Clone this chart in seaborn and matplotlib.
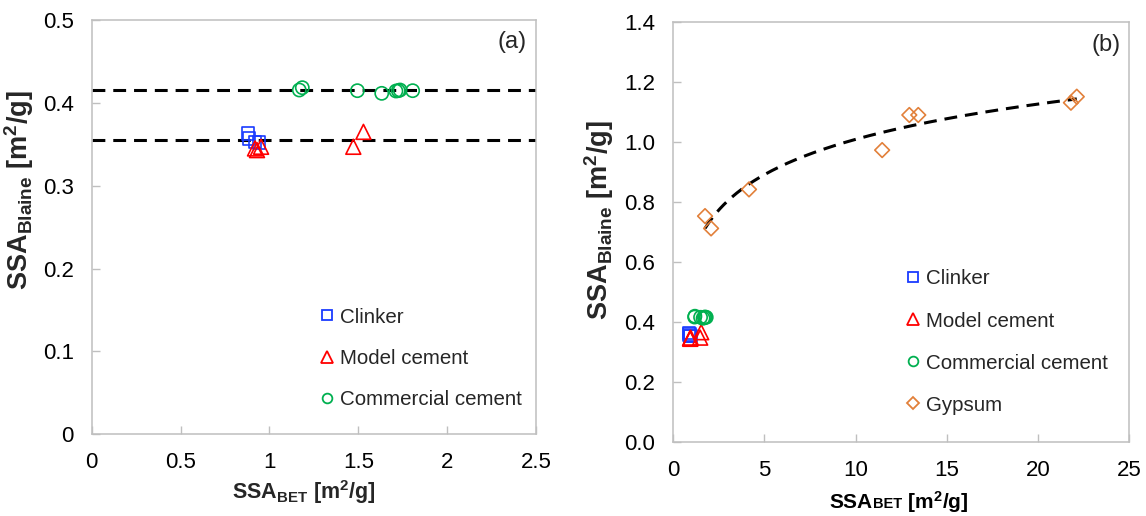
import numpy as np
import pandas as pd
import matplotlib
matplotlib.use("Agg")
import matplotlib.pyplot as plt
import seaborn as sns
from matplotlib.lines import Line2D
from matplotlib.offsetbox import TextArea, HPacker, AnchoredOffsetbox

# ---- measured specific surface areas [m2/g] ----
clinker_bet = [0.878, 0.886, 0.919, 0.941]
clinker_blaine = [0.363, 0.357, 0.353, 0.352]

model_bet = [0.919, 0.930, 0.953, 1.472, 1.529]
model_blaine = [0.345, 0.343, 0.347, 0.347, 0.365]

commercial_bet = [1.168, 1.185, 1.495, 1.632, 1.712, 1.725, 1.735, 1.806]
commercial_blaine = [0.4155, 0.4183, 0.4147, 0.4115, 0.4143, 0.4147, 0.4155, 0.4147]

gypsum_bet = [1.74, 2.07, 4.15, 11.45, 12.94, 13.43, 21.80, 22.12]
gypsum_blaine = [0.752, 0.711, 0.841, 0.972, 1.089, 1.089, 1.130, 1.150]

# horizontal reference levels in panel (a)
level_commercial = 0.415
level_clinker = 0.355

materials = ["Clinker", "Model cement", "Commercial cement", "Gypsum"]

# ---- tick labels ----
a_xticks = [0, 0.5, 1, 1.5, 2, 2.5]
a_xticklabels = ["0", "0.5", "1", "1.5", "2", "2.5"]
a_yticks = [0, 0.1, 0.2, 0.3, 0.4, 0.5]
a_yticklabels = ["0", "0.1", "0.2", "0.3", "0.4", "0.5"]
b_xticks = [0, 5, 10, 15, 20, 25]
b_xticklabels = ["0", "5", "10", "15", "20", "25"]
b_yticks = [0, 0.2, 0.4, 0.6, 0.8, 1.0, 1.2, 1.4]
b_yticklabels = ["0.0", "0.2", "0.4", "0.6", "0.8", "1.0", "1.2", "1.4"]

df = pd.concat([
    pd.DataFrame({"material": "Clinker", "bet": clinker_bet, "blaine": clinker_blaine}),
    pd.DataFrame({"material": "Model cement", "bet": model_bet, "blaine": model_blaine}),
    pd.DataFrame({"material": "Commercial cement", "bet": commercial_bet, "blaine": commercial_blaine}),
    pd.DataFrame({"material": "Gypsum", "bet": gypsum_bet, "blaine": gypsum_blaine}),
], ignore_index=True)

sns.set_theme(style="white")
plt.rcParams["font.family"] = ["Liberation Sans", "DejaVu Sans"]
plt.rcParams["mathtext.fontset"] = "custom"
plt.rcParams["mathtext.rm"] = "Liberation Sans"
plt.rcParams["mathtext.bf"] = "Liberation Sans:bold"
plt.rcParams["mathtext.it"] = "Liberation Sans:italic"

colors = {"Clinker": "#1a3cff", "Model cement": "#ff0000",
          "Commercial cement": "#00b050", "Gypsum": "#e2803a"}
markers = {"Clinker": "s", "Model cement": "^", "Commercial cement": "o", "Gypsum": "D"}
sizes = {"Clinker": 78, "Model cement": 115, "Commercial cement": 90, "Gypsum": 56}
legend_ms = {"Clinker": 7, "Model cement": 8, "Commercial cement": 7, "Gypsum": 6}

W, H = 1146, 516
fig = plt.figure(figsize=(W / 100, H / 100), dpi=100)
ax_a = fig.add_axes([91.7 / W, 1 - 434.3 / H, 444.3 / W, 414.3 / H])
ax_b = fig.add_axes([673.3 / W, 1 - 441.7 / H, 456.0 / W, 420.0 / H])

spine_color = "#bfbfbf"
dash = (0, (4.2, 2.6))


def style_axes(ax):
    for sp in ax.spines.values():
        sp.set_color(spine_color)
        sp.set_linewidth(1.1)
        sp.set_visible(True)
    ax.tick_params(axis="both", direction="in", length=6, width=1, color=spine_color,
                   labelsize=16, pad=13, labelcolor="black",
                   left=True, bottom=True, top=False, right=False)
    ax.grid(False)


def draw_points(ax, groups):
    for m in groups:
        sub = df[df["material"] == m]
        sns.scatterplot(data=sub, x="bet", y="blaine", ax=ax, marker=markers[m],
                        s=sizes[m], color=colors[m], facecolor="none",
                        edgecolor=colors[m], linewidth=1.2, legend=False, zorder=3)


def add_legend(ax, groups, anchor, spacing):
    handles = [Line2D([], [], linestyle="none", marker=markers[m], markersize=legend_ms[m],
                      markerfacecolor="none", markeredgecolor=colors[m],
                      markeredgewidth=1.3) for m in groups]
    ax.legend(handles, groups, loc="upper left", bbox_to_anchor=anchor, frameon=False,
              fontsize=14.8, handlelength=0.8, handletextpad=0.2, labelspacing=spacing,
              borderpad=0, borderaxespad=0)


ylabel_text = r"$\mathbf{SSA_{Blaine}\ [m^2/g]}$"

# ---- panel (a) ----
draw_points(ax_a, materials[:3])
ax_a.axhline(level_commercial, color="black", lw=2.2, linestyle=dash, zorder=2)
ax_a.axhline(level_clinker, color="black", lw=2.2, linestyle=dash, zorder=2)
ax_a.set_xlim(0, 2.5)
ax_a.set_ylim(0, 0.5)
ax_a.set_xticks(a_xticks)
ax_a.set_xticklabels(a_xticklabels)
ax_a.set_yticks(a_yticks)
ax_a.set_yticklabels(a_yticklabels)
style_axes(ax_a)
ax_a.set_xlabel(r"$\mathbf{SSA_{BET}\ [m^2/g]}$", fontsize=15.5)
ax_a.set_ylabel(ylabel_text, fontsize=19.5)
ax_a.xaxis.set_label_coords(0.478, -0.105)
ax_a.yaxis.set_label_coords(-0.125, 0.589)
ax_a.text(0.98, 0.947, "(a)", transform=ax_a.transAxes, ha="right", va="center", fontsize=17)
add_legend(ax_a, materials[:3], (0.512, 0.306), 1.08)

# ---- panel (b) ----
draw_points(ax_b, materials)
gx = np.array(gypsum_bet)
gy = np.array(gypsum_blaine)
slope, intercept = np.polyfit(np.log(gx), gy, 1)
xs = np.linspace(gx.min(), gx.max(), 200)
ax_b.plot(xs, slope * np.log(xs) + intercept, color="black", lw=2.2, linestyle=dash, zorder=2)
ax_b.set_xlim(0, 25)
ax_b.set_ylim(0, 1.4)
ax_b.set_xticks(b_xticks)
ax_b.set_xticklabels(b_xticklabels)
ax_b.set_yticks(b_yticks)
ax_b.set_yticklabels(b_yticklabels)
style_axes(ax_b)
ax_b.set_xlabel("")
ax_b.set_ylabel(ylabel_text, fontsize=19.5)
ax_b.yaxis.set_label_coords(-0.126, 0.528)
ax_b.text(0.98, 0.944, "(b)", transform=ax_b.transAxes, ha="right", va="center", fontsize=17)
add_legend(ax_b, materials, (0.508, 0.41), 1.12)

# x label of panel (b): "BET" set small on the baseline
big = dict(fontsize=15, fontweight="bold", color="black")
small = dict(fontsize=10.5, fontweight="bold", color="black")
label_box = HPacker(children=[TextArea("SSA", textprops=big),
                              TextArea("BET", textprops=small),
                              TextArea(r" $\mathbf{[m^2/g]}$", textprops=big)],
                    align="baseline", pad=0, sep=0)
ax_b.add_artist(AnchoredOffsetbox(loc="upper center", child=label_box, pad=0, borderpad=0,
                                  frameon=False, bbox_to_anchor=(0.495, -0.112),
                                  bbox_transform=ax_b.transAxes))

fig.savefig("out.png", dpi=100)
